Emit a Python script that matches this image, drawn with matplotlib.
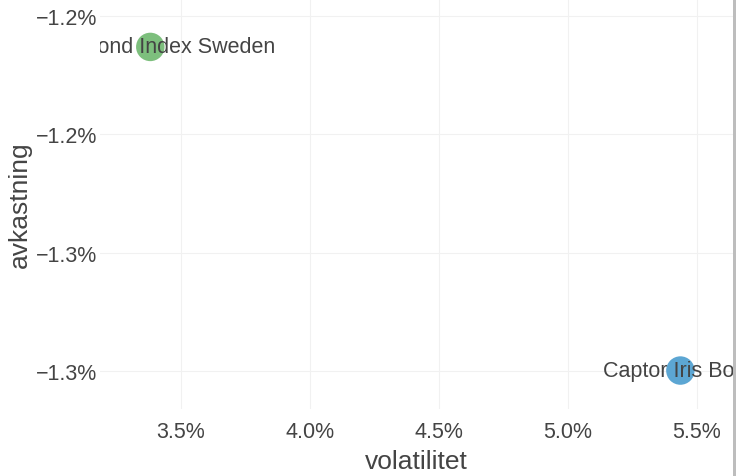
import matplotlib
matplotlib.use("Agg")
import matplotlib.pyplot as plt
from matplotlib.patches import Rectangle
from matplotlib.ticker import FuncFormatter

plt.rcParams['font.family'] = ['Liberation Sans', 'DejaVu Sans']

# data (percent)
funds = ["Enter Bond Index Sweden", "Captor Iris Bond"]
volatility = [3.381, 5.436]
returns = [-1.2252, -1.2799]
colors = ["#7dbf7d", "#5ca6d3"]

x_ticks = [3.5, 4.0, 4.5, 5.0, 5.5]
y_ticks = [-1.22, -1.24, -1.26, -1.28]

fig = plt.figure(figsize=(7.36, 4.77), dpi=100)
ax = fig.add_axes([100 / 736, 67 / 477, 633 / 736, 410 / 477])

ax.scatter(volatility, returns, s=420, c=colors, linewidths=0, zorder=3)
for name, x, y in zip(funds, volatility, returns):
    ax.text(x, y, name, ha='center', va='center', fontsize=15.5,
            color='#444444', clip_on=True, zorder=4)

ax.set_xlim(3.186, 5.640)
ax.set_ylim(-1.2864, -1.2171)
ax.set_xticks(x_ticks)
ax.set_yticks(y_ticks)

ax.xaxis.set_major_formatter(FuncFormatter(lambda v, p: "%.1f%%" % v))
ax.yaxis.set_major_formatter(
    FuncFormatter(lambda v, p: ("%.1f%%" % v).replace("-", "\u2212")))

ax.tick_params(length=0, labelsize=15.5, labelcolor='#444444')
ax.tick_params(axis='x', pad=9)
ax.tick_params(axis='y', pad=2)
ax.grid(True, color='#f1f1f1', linewidth=0.8)
ax.set_axisbelow(True)
for s in ax.spines.values():
    s.set_visible(False)

ax.set_xlabel("volatilitet", fontsize=19, color='#444444', va='center')
ax.xaxis.set_label_coords(0.5, -52 / 410)
ax.set_ylabel("avkastning", fontsize=19, color='#444444', va='center')
ax.yaxis.set_label_coords(-80 / 633, 0.5)

fig.add_artist(Rectangle((733 / 736, 0), 3 / 736, 1, transform=fig.transFigure,
                         color='#bdbdbd', lw=0))

fig.savefig("out.png", dpi=100)
